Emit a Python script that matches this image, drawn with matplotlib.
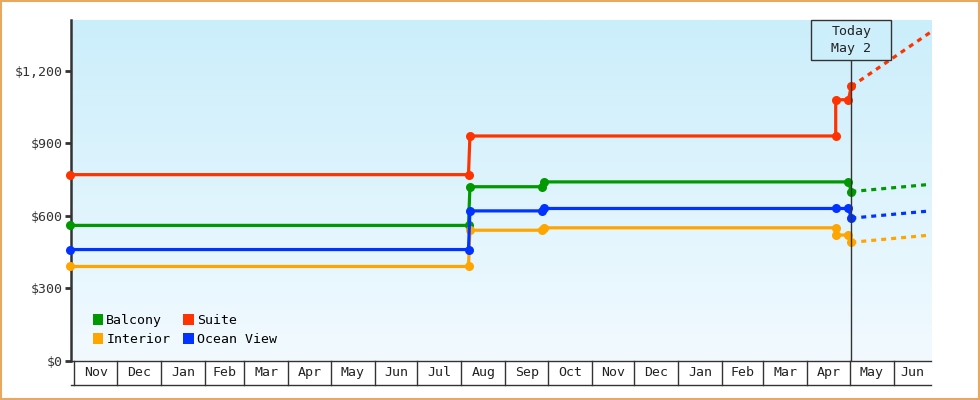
import numpy as np
import matplotlib
matplotlib.use("Agg")
import matplotlib.pyplot as plt
import matplotlib.dates as mdates
import matplotlib.transforms as mtransforms
from matplotlib.patches import Patch, Rectangle
from datetime import datetime, timedelta

plt.rcParams['font.family'] = ['DejaVu Sans Mono']
plt.rcParams['lines.scale_dashes'] = False

# price history, (date, price) per cabin class
balcony_dates = ["2022-10-29", "2023-08-06", "2023-08-07", "2023-09-27", "2023-09-28", "2024-04-30", "2024-05-02"]
balcony_prices = [560, 560, 720, 720, 740, 740, 700]

suite_dates = ["2022-10-29", "2023-08-06", "2023-08-07", "2024-04-21", "2024-04-21", "2024-04-30", "2024-05-02"]
suite_prices = [770, 770, 930, 930, 1080, 1080, 1135]

ocean_dates = ["2022-10-29", "2023-08-06", "2023-08-07", "2023-09-27", "2023-09-28", "2024-04-21", "2024-04-30", "2024-05-02"]
ocean_prices = [460, 460, 620, 620, 630, 630, 630, 590]

interior_dates = ["2022-10-29", "2023-08-06", "2023-08-07", "2023-09-27", "2023-09-28", "2024-04-21", "2024-04-21", "2024-04-30", "2024-05-02"]
interior_prices = [390, 390, 540, 540, 550, 550, 520, 520, 490]

# projected price at end of window
proj_end = "2024-06-27"
balcony_proj = 730
suite_proj = 1360
ocean_proj = 620
interior_proj = 520

today = "2024-05-02"
today_label = "Today\nMay 2"
month_labels = ["Nov", "Dec", "Jan", "Feb", "Mar", "Apr", "May", "Jun", "Jul", "Aug",
                "Sep", "Oct", "Nov", "Dec", "Jan", "Feb", "Mar", "Apr", "May", "Jun"]

yticks = [0, 300, 600, 900, 1200]

series = [
    ("Balcony", balcony_dates, balcony_prices, balcony_proj, "#009900"),
    ("Interior", interior_dates, interior_prices, interior_proj, "#ffa500"),
    ("Suite", suite_dates, suite_prices, suite_proj, "#ff3300"),
    ("Ocean View", ocean_dates, ocean_prices, ocean_proj, "#0033ff"),
]

def d(s):
    return datetime.strptime(s, "%Y-%m-%d")

fig = plt.figure(figsize=(9.8, 4), dpi=100)
fig.patch.set_facecolor("white")
fig.patches.append(Rectangle((0.001, 0.002), 0.998, 0.996, transform=fig.transFigure,
                             fill=False, edgecolor="#e8a860", linewidth=1.5))

ax = fig.add_axes([70.7 / 980, 39.3 / 400, 860 / 980, 340.7 / 400])

# background gradient
grad = np.linspace(0, 1, 256).reshape(-1, 1)
top = np.array([203, 238, 251]) / 255
bot = np.array([242, 250, 255]) / 255
img = top[None, None, :] * (1 - grad[:, :, None]) + bot[None, None, :] * grad[:, :, None]
ax.imshow(img, extent=[0, 1, 0, 1], transform=ax.transAxes, aspect="auto", zorder=0)

x_left = d("2022-10-29")
x_right = d(proj_end)

for name, dates, prices, proj, color in series:
    xs = [d(s) for s in dates]
    ax.plot(xs, prices, color=color, lw=2.3, marker="o", markersize=6.5,
            markeredgewidth=0, zorder=3, clip_on=False, solid_joinstyle="miter")
    ax.plot([xs[-1], d(proj_end)], [prices[-1], proj], color=color, lw=2.3,
            dashes=[3.6, 3.6], dash_capstyle="butt", zorder=3, clip_on=False)

ax.set_xlim(x_left + timedelta(hours=10), x_right)
ax.set_ylim(0, 1410)

ax.set_yticks(yticks)
ax.yaxis.set_major_formatter(plt.FuncFormatter(lambda v, p: "${:,.0f}".format(v)))
ax.tick_params(axis="y", length=4, width=2, color="#333333", pad=2,
               labelsize=9.5, labelcolor="#333333")
ax.set_xticks([])
for s in ["top", "right"]:
    ax.spines[s].set_visible(False)
ax.spines["left"].set_linewidth(1.8)
ax.spines["left"].set_color("#333333")
ax.spines["bottom"].set_linewidth(1.0)
ax.spines["bottom"].set_color("#333333")

# month boxes below the axis
trans = mtransforms.blended_transform_factory(ax.transData, ax.transAxes)
box_bottom = -24.5 / 340.7
starts = []
m = datetime(2022, 11, 1)
while m < x_right:
    starts.append(m)
    m = datetime(m.year + (m.month // 12), m.month % 12 + 1, 1)
edges = starts + [x_right]
for b in starts:
    ax.plot([b, b], [0, box_bottom], color="#333333", lw=1.0, transform=trans, clip_on=False)
ax.plot([0, 1], [box_bottom, box_bottom], color="#333333", lw=1.0,
        transform=ax.transAxes, clip_on=False)
for i, lab in enumerate(month_labels):
    mid = edges[i] + (edges[i + 1] - edges[i]) / 2
    ax.text(mid, box_bottom / 2, lab, transform=trans, ha="center", va="center",
            fontsize=9.5, color="#222222", clip_on=False)

# today marker
t = d(today)
box_h = 40 / 340.7
ax.plot([t, t], [0, 1 - box_h], color="#333333", lw=1.0, transform=trans, zorder=4)
ax.add_patch(Rectangle((mdates.date2num(t) - 28.2, 1 - box_h), 56.4, box_h, transform=trans,
                       facecolor="#cdeffb", edgecolor="#333333", lw=1.0, zorder=5, clip_on=False))
ax.text(t, 1 - box_h / 2, today_label, transform=trans, ha="center", va="center",
        fontsize=9.5, color="#222222", linespacing=1.35, zorder=6)

handles = [Patch(facecolor=c, edgecolor="none", label=n) for n, _, _, _, c in series]
ax.legend(handles=handles, ncol=2, loc="lower left", bbox_to_anchor=(22 / 860, 14.5 / 340.7),
          frameon=False, fontsize=9.5, handlelength=0.78, handleheight=0.85,
          handletextpad=0.25, columnspacing=1.0, labelspacing=0.45,
          borderpad=0, borderaxespad=0)

fig.savefig("out.png", dpi=100)
